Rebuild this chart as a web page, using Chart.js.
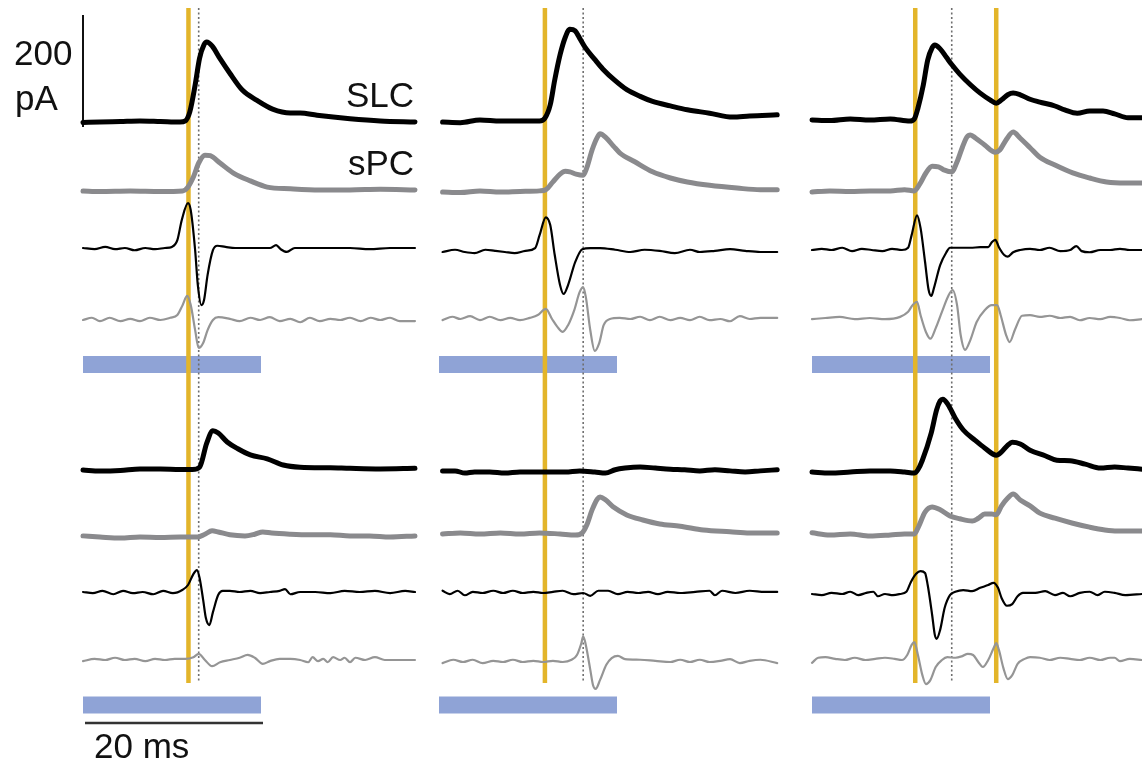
<!DOCTYPE html>
<html>
<head>
<meta charset="utf-8">
<script src="https://cdn.jsdelivr.net/npm/chart.js@4.4.0/dist/chart.umd.min.js"></script>
<style>
  body { margin: 0; background: #fff; }
  #figura { position: relative; width: 1142px; height: 766px; overflow: hidden; }
  #figura canvas { position: absolute; left: 0; top: 0; }
  .rotulo {
    position: absolute;
    font-family: "Liberation Sans", Arial, sans-serif;
    font-size: 35px;
    line-height: 35px;
    color: #111;
    white-space: nowrap;
  }
</style>
</head>
<body>
<div id="figura">
  <canvas id="tracos" width="1142" height="766"></canvas>
  <div class="rotulo" style="left:14px; top:35px;">200</div>
  <div class="rotulo" style="left:15px; top:80px;">pA</div>
  <div class="rotulo" style="right:728px; top:77px;">SLC</div>
  <div class="rotulo" style="right:728px; top:145px;">sPC</div>
  <div class="rotulo" style="left:94px; top:728px;">20 ms</div>
</div>
<script>
// tempo (ms desde o início do estímulo), amplitude (pA; derivadas em u.a. na mesma escala)
// linha 1
const slc11 = [[0,-1],[1.9,0],[4.2,1],[6.4,2],[8.7,1],[10.9,0],[11.5,2],[12.0,18],[12.6,66],[13.1,114],[13.6,138],[13.9,143],[14.5,136],[15.4,113],[16.5,87],[17.9,57],[19.5,39],[21.3,23],[23.3,16],[24.4,16],[26.3,12],[30.0,6],[33.4,2],[37.3,0]];
const spc11 = [[0,0],[1.9,-1],[5.3,0],[8.7,-1],[11.2,0],[11.7,5],[12.4,25],[13.0,50],[13.7,64],[14.3,63],[15.4,50],[16.9,32],[18.8,18],[20.7,7],[23.3,4],[26.6,2],[30.0,2],[33.4,3],[37.3,2]];
const dSlc11 = [[0,0],[1.3,-2],[2.5,2],[3.6,-2],[4.7,0],[5.8,-4],[7.0,0],[8.1,-2],[9.2,0],[10.0,2],[10.6,14],[11.1,50],[11.8,80],[12.1,68],[12.6,-4],[12.9,-66],[13.3,-102],[13.6,-93],[14.0,-48],[14.6,-4],[15.1,4],[16.0,2],[17.1,0],[18.2,0],[19.3,0],[21.0,0],[21.7,5],[22.2,-2],[22.9,-7],[23.8,0],[25.5,0],[27.8,0],[30.0,0],[32.2,-2],[34.5,0],[37.3,0]];
const dSpc11 = [[0,0],[1.0,4],[1.9,-2],[3.0,4],[4.2,-2],[5.3,2],[6.4,-2],[7.5,4],[8.7,0],[9.8,4],[10.6,9],[11.2,27],[11.7,43],[12.1,27],[12.6,-18],[13.0,-50],[13.5,-41],[14.0,-18],[14.6,0],[15.2,5],[16.5,2],[17.6,-2],[18.8,4],[19.9,0],[21.0,5],[22.1,-2],[23.3,2],[24.4,-4],[25.5,4],[26.6,-2],[27.8,2],[28.9,0],[30.0,4],[31.2,-2],[32.3,4],[33.4,0],[34.5,4],[35.6,-2],[37.3,-2]];

const slc12 = [[0.4,-2],[2.4,-3],[4.6,2],[6.9,0],[9.1,0],[11.3,0],[11.9,5],[12.5,29],[13.0,73],[13.6,118],[14.2,150],[14.7,164],[15.3,161],[15.8,148],[16.4,132],[17.5,110],[18.4,93],[19.8,72],[21.1,56],[22.6,44],[24.0,35],[26.0,27],[27.9,20],[30.4,14],[33.0,7],[34.9,9],[38.0,11]];
const spc12 = [[0.4,0],[2.4,-1],[4.6,2],[6.9,0],[9.1,1],[11.3,2],[12.0,4],[12.8,18],[13.6,32],[14.2,37],[14.7,36],[15.4,32],[16.2,30],[16.6,43],[17.2,75],[17.8,98],[18.1,104],[18.7,98],[19.6,82],[20.3,70],[22.0,54],[24.0,36],[26.0,25],[27.9,18],[30.4,12],[33.5,7],[36.1,4],[38.0,4]];
const dSlc12 = [[0.4,0],[1.8,4],[2.9,0],[4.0,-2],[5.2,4],[6.3,2],[7.4,0],[8.5,-2],[9.7,2],[10.8,7],[11.3,30],[12.0,62],[12.5,48],[13.0,-5],[13.6,-59],[14.0,-75],[14.5,-59],[15.3,-18],[16.1,5],[17.0,7],[18.1,7],[19.8,4],[21.5,0],[23.1,4],[24.8,2],[26.5,-2],[28.2,4],[29.3,0],[31.0,2],[32.7,5],[34.4,2],[36.1,0],[38.0,0]];
const dSpc12 = [[0.4,-2],[1.5,4],[2.4,0],[3.5,5],[4.6,-2],[5.7,4],[6.9,-2],[8.0,2],[9.1,-2],[10.2,2],[11.1,7],[12.0,18],[12.7,0],[13.3,-14],[13.9,-23],[14.5,-11],[15.2,16],[15.8,48],[16.2,57],[16.5,39],[17.0,-20],[17.5,-57],[18.0,-43],[18.5,-11],[19.2,0],[20.3,2],[21.5,0],[22.6,4],[23.7,-2],[24.8,4],[26.0,-2],[27.1,2],[28.2,-2],[29.3,4],[30.4,-2],[31.6,0],[32.7,-4],[33.8,5],[34.9,0],[36.1,2],[38.0,2]];

const slc13 = [[0,0],[2.0,-1],[4.3,2],[6.5,0],[8.8,2],[11.0,-2],[11.5,2],[11.9,21],[12.5,62],[13.0,107],[13.5,129],[13.8,134],[14.4,127],[15.1,112],[15.7,99],[16.6,82],[17.8,63],[18.9,48],[20.0,36],[20.7,30],[21.3,36],[22.0,45],[22.6,48],[23.4,45],[24.5,37],[25.6,32],[27.3,25],[28.4,18],[29.8,12],[31.2,16],[32.7,16],[34.0,11],[35.5,4],[37.1,4]];
const spc13 = [[0,0],[2.0,2],[4.3,1],[6.5,2],[8.8,2],[10.4,4],[11.5,2],[12.1,14],[12.8,34],[13.5,46],[14.2,45],[14.9,39],[15.7,36],[16.3,54],[16.9,80],[17.4,98],[17.8,102],[18.4,96],[19.4,84],[20.6,71],[21.1,75],[21.8,93],[22.6,107],[23.4,96],[24.5,79],[25.6,62],[27.3,48],[29.3,34],[31.2,25],[33.1,18],[35.2,16],[37.1,16]];
const dSlc13 = [[0,0],[1.1,2],[2.2,0],[3.4,4],[4.5,-2],[5.6,2],[6.7,0],[7.9,-2],[9.0,2],[10.1,0],[10.8,4],[11.2,27],[11.8,62],[12.2,39],[12.7,-21],[13.1,-71],[13.4,-82],[13.7,-68],[14.4,-27],[15.1,-4],[15.5,4],[16.6,4],[17.8,4],[18.9,5],[19.8,5],[20.2,14],[20.6,18],[21.0,5],[21.6,-9],[22.0,-12],[22.6,-4],[23.4,0],[24.5,2],[25.6,0],[26.7,4],[27.9,-2],[29.0,0],[29.7,7],[30.3,-2],[31.2,-4],[32.4,0],[33.5,0],[34.6,2],[35.7,0],[37.1,0]];
const dSpc13 = [[0,-2],[1.5,0],[3.1,2],[4.8,-2],[6.5,0],[8.2,-2],[9.9,2],[10.8,11],[11.3,23],[11.8,29],[12.2,5],[12.8,-25],[13.3,-37],[13.9,-18],[14.6,11],[15.3,39],[15.8,50],[16.3,23],[16.7,-30],[17.2,-57],[17.8,-39],[18.5,-7],[19.4,14],[20.2,23],[20.8,23],[21.2,5],[21.8,-30],[22.2,-43],[22.8,-21],[23.6,4],[24.5,5],[25.6,2],[26.7,4],[27.9,0],[29.0,2],[30.1,-4],[31.2,0],[32.4,-2],[33.5,2],[34.6,0],[35.7,-4],[37.1,-2]];

// linha 2
const slc21 = [[0,0],[1.9,-2],[4.2,-1],[6.4,2],[8.7,2],[10.9,1],[12.3,1],[13.1,5],[13.9,48],[14.6,70],[15.2,66],[16.2,50],[17.4,38],[18.8,27],[20.7,20],[22.5,9],[24.4,5],[27.8,4],[30.0,3],[33.4,2],[37.3,3]];
const spc21 = [[0,2],[1.9,0],[4.2,-2],[6.4,0],[8.7,-1],[10.9,0],[12.9,0],[13.7,5],[14.5,11],[15.2,9],[16.5,4],[18.2,2],[19.3,5],[20.2,9],[21.2,7],[23.3,5],[25.5,4],[27.8,4],[30.0,2],[32.2,2],[34.5,0],[37.3,2]];
const dSlc21 = [[0,0],[1.1,-2],[2.2,2],[3.4,-4],[4.5,2],[5.6,-2],[6.7,0],[7.9,-4],[9.0,2],[10.1,-2],[11.2,4],[11.8,12.5],[12.4,32],[12.8,39],[13.1,25],[13.5,-14],[13.8,-46],[14.2,-59],[14.6,-36],[15.2,-5],[15.7,2],[16.5,2],[17.6,0],[18.8,2],[19.9,-2],[21.0,0],[22.1,2],[22.7,5],[23.3,-4],[24.4,0],[26.1,0],[27.8,-2],[29.4,2],[31.1,0],[32.8,2],[34.5,-2],[36.2,2],[37.3,0]];
const dSpc21 = [[0,-2],[1.3,2],[2.5,0],[3.6,4],[4.7,0],[5.8,2],[7.0,-2],[8.1,2],[9.2,0],[10.3,2],[11.5,2],[12.4,5],[13.0,11],[13.7,0],[14.5,-11],[15.4,-4],[16.5,0],[17.6,4],[18.5,9],[19.3,4],[20.2,-7],[21.0,-2],[22.1,2],[23.3,2],[24.4,0],[25.3,-4],[25.8,5],[26.4,-2],[27.0,2],[27.5,-4],[28.1,5],[28.9,0],[29.4,4],[30.0,-4],[30.6,4],[31.7,0],[32.8,5],[33.9,0],[35.1,0],[37.3,0]];

const slc22 = [[0.4,2],[1.8,2],[2.9,-2],[4.0,0],[5.7,0],[7.4,-2],[9.1,0],[10.8,0],[12.5,0],[14.2,0],[15.8,2],[17.5,0],[18.7,-2],[19.8,4],[20.9,7],[22.6,9],[24.3,7],[26.0,5],[27.6,4],[29.3,2],[31.0,4],[32.7,2],[34.4,0],[36.1,2],[38.0,4]];
const spc22 = [[0.4,0],[2.4,2],[4.6,0],[6.9,2],[9.1,0],[11.3,2],[13.6,0],[15.3,-2],[16.1,2],[16.6,16],[17.2,43],[17.8,62.5],[18.1,66],[18.7,61],[19.6,48],[21.1,34],[22.9,25],[24.8,18],[27.1,14],[29.7,7],[32.7,4],[34.9,2],[38.0,2]];
const dSlc22 = [[0.4,4],[1.2,-2],[2.1,4],[2.9,-4],[3.8,2],[4.9,0],[6.1,4],[7.2,0],[8.3,4],[9.4,0],[10.6,2],[11.7,0],[12.8,2],[13.9,4],[15.1,-2],[16.2,0],[17.0,-5],[17.9,4],[19.0,4],[20.1,-2],[21.2,2],[22.4,0],[23.5,2],[24.6,-2],[25.7,2],[27.1,0],[28.8,2],[30.4,4],[31.0,-4],[31.8,4],[33.3,0],[34.9,4],[36.6,2],[38.0,2]];
const dSpc22 = [[0.4,-2],[1.6,4],[2.7,0],[3.8,4],[4.9,-2],[6.1,2],[7.2,0],[8.3,4],[9.4,0],[10.6,2],[11.7,0],[12.8,2],[13.9,0],[14.9,4],[15.5,12.5],[16.0,34],[16.2,46],[16.5,30],[17.0,-14],[17.3,-41],[17.6,-48],[18.1,-32],[18.8,-5],[19.4,7],[20.1,11],[20.9,5],[22.6,4],[24.3,2],[26.0,0],[27.1,4],[28.2,0],[29.3,4],[30.4,0],[31.6,2],[32.7,5],[33.8,-2],[34.9,2],[36.1,4],[38.0,-2]];

const slc23 = [[0,0],[2.0,-2],[4.3,0],[6.5,2],[8.8,2],[10.4,0],[11.5,-2],[11.9,4],[12.4,21],[13.4,70],[14.0,111],[14.4,127],[14.7,130],[15.3,120],[16.1,96],[17.0,75],[18.3,57],[19.4,43],[20.7,30],[21.3,36],[22.0,48],[22.5,53],[23.4,50],[24.5,39],[26.2,29],[27.5,21],[29.0,20],[30.7,14],[32.4,7],[34.0,9],[35.5,7],[37.1,5]];
const spc23 = [[0,4],[2.0,0],[4.3,2],[6.5,-2],[8.8,0],[10.4,2],[11.5,2],[12.0,16],[12.7,41],[13.5,50],[14.4,45],[15.5,34],[16.6,29],[18.0,25],[18.7,30],[19.4,37.5],[20.2,37.5],[20.7,36],[21.3,52],[22.0,66],[22.6,73],[23.4,62.5],[24.5,52],[25.6,39],[27.3,30],[29.3,21],[31.2,14],[32.9,9],[34.3,7],[37.1,7]];
const dSlc23 = [[0,0],[1.1,-2],[2.2,2],[3.4,0],[4.3,4],[5.2,-2],[6.1,2],[6.9,4],[7.4,-4],[8.2,0],[9.1,-2],[9.9,0],[10.6,4],[11.1,21],[11.7,36],[12.2,41],[12.7,37.5],[13.0,16],[13.5,-37.5],[13.8,-73],[14.0,-80],[14.4,-64],[14.9,-25],[15.5,-2],[16.1,4],[17.0,7],[18.0,5],[18.9,11],[19.8,16],[20.4,20],[20.9,11],[21.3,-7],[21.9,-21],[22.5,-18],[23.1,-4],[23.7,2],[25.1,2],[26.2,5],[27.3,-2],[28.2,2],[29.0,-4],[30.1,2],[31.2,4],[32.1,-2],[32.9,4],[34.0,2],[35.2,-2],[37.1,0]];
const dSpc23 = [[0,-5],[0.7,4],[1.5,5],[2.6,2],[3.7,0],[4.8,4],[6.0,0],[7.1,2],[8.2,4],[9.3,2],[10.1,0],[10.7,9],[11.2,27],[11.5,32],[11.9,9],[12.4,-27],[12.8,-43],[13.3,-36],[13.9,-12.5],[14.6,0],[15.2,5],[16.1,4],[16.9,7],[17.5,11],[18.1,9],[18.7,-4],[19.2,-12.5],[19.8,0],[20.4,21],[20.7,30],[21.0,18],[21.5,-14],[22.0,-34],[22.5,-27],[23.1,-7],[23.9,2],[24.5,5],[25.6,4],[26.7,0],[27.9,4],[29.0,2],[30.1,0],[31.2,4],[32.4,0],[33.5,4],[34.0,4],[34.6,-2],[35.7,2],[37.1,0]];

// marcadores verticais (ms) por coluna
const linhasAmarelas = [[11.85], [11.9], [11.6, 20.7]];
const linhasPontilhadas = [[13.0], [16.2], [15.7]];
const DURACAO_ESTIMULO = 20;   // ms, barra azul
const ESCALA_PA = 200;         // barra vertical
const ESCALA_MS = 20;          // barra horizontal

// layout (px)
const W = 1142, H = 766;
const PX_MS = 8.9, PX_PA = 0.56;
const COLUNAS_X = [83, 439, 812];
const paineis = [
  { col: 0, bases: [122, 191, 248, 320], tracos: [slc11, spc11, dSlc11, dSpc11] },
  { col: 1, bases: [121, 192, 252, 319], tracos: [slc12, spc12, dSlc12, dSpc12] },
  { col: 2, bases: [120, 192, 250, 318], tracos: [slc13, spc13, dSlc13, dSpc13] },
  { col: 0, bases: [470, 537, 592, 660], tracos: [slc21, spc21, dSlc21, dSpc21] },
  { col: 1, bases: [472, 534, 593, 662], tracos: [slc22, spc22, dSlc22, dSpc22] },
  { col: 2, bases: [472, 535, 594, 660], tracos: [slc23, spc23, dSlc23, dSpc23] }
];
const BARRAS_Y = [364.5, 705];
const MARCADOR_TOPO = 8, MARCADOR_FIM = 683;

const estilos = [
  { cor: '#000000', largura: 5 },
  { cor: '#8a8a8d', largura: 5 },
  { cor: '#000000', largura: 2.2 },
  { cor: '#959595', largura: 2.2 }
];

// conversões px -> unidades das escalas
const xMs = px => px / PX_MS;
const yPa = px => (H - px) / PX_PA;

function segmento(x1, y1, x2, y2, cor, largura, extra) {
  return Object.assign({
    data: [{ x: x1, y: y1 }, { x: x2, y: y2 }],
    borderColor: cor,
    borderWidth: largura,
    borderCapStyle: 'butt',
    pointRadius: 0,
    tension: 0,
    order: 1
  }, extra || {});
}

const datasets = [];

// traços
paineis.forEach(p => {
  const x0 = xMs(COLUNAS_X[p.col]);
  p.tracos.forEach((traco, i) => {
    const y0 = yPa(p.bases[i]);
    datasets.push({
      data: traco.map(([t, v]) => ({ x: x0 + t, y: y0 + v })),
      borderColor: estilos[i].cor,
      borderWidth: estilos[i].largura,
      borderJoinStyle: 'round',
      borderCapStyle: 'round',
      cubicInterpolationMode: 'monotone',
      pointRadius: 0,
      order: 0
    });
  });
});

// linhas amarelas, pontilhadas e barras do estímulo
COLUNAS_X.forEach((cx, c) => {
  const x0 = xMs(cx);
  linhasAmarelas[c].forEach(t => {
    datasets.push(segmento(x0 + t, yPa(MARCADOR_TOPO), x0 + t, yPa(MARCADOR_FIM), '#e3b52a', 4.5));
  });
  linhasPontilhadas[c].forEach(t => {
    datasets.push(segmento(x0 + t, yPa(MARCADOR_TOPO), x0 + t, yPa(MARCADOR_FIM), '#6f6f6f', 1.6, { borderDash: [2, 2.5] }));
  });
  BARRAS_Y.forEach(by => {
    datasets.push(segmento(x0, yPa(by), x0 + DURACAO_ESTIMULO, yPa(by), '#8fa3d6', 17, { order: 2 }));
  });
});

// barras de escala
const escBase = yPa(127);
datasets.push(segmento(xMs(83), escBase, xMs(83), escBase + ESCALA_PA, '#111111', 2, { order: 0 }));
datasets.push(segmento(xMs(85), yPa(723), xMs(85) + ESCALA_MS, yPa(723), '#333333', 2.5, { order: 0 }));

new Chart(document.getElementById('tracos'), {
  type: 'line',
  data: { datasets: datasets },
  options: {
    responsive: false,
    animation: false,
    events: [],
    layout: { padding: 0 },
    plugins: { legend: { display: false }, tooltip: { enabled: false } },
    elements: { point: { radius: 0 } },
    scales: {
      x: { type: 'linear', display: false, min: 0, max: W / PX_MS },
      y: { type: 'linear', display: false, min: 0, max: H / PX_PA }
    }
  }
});
</script>
</body>
</html>
